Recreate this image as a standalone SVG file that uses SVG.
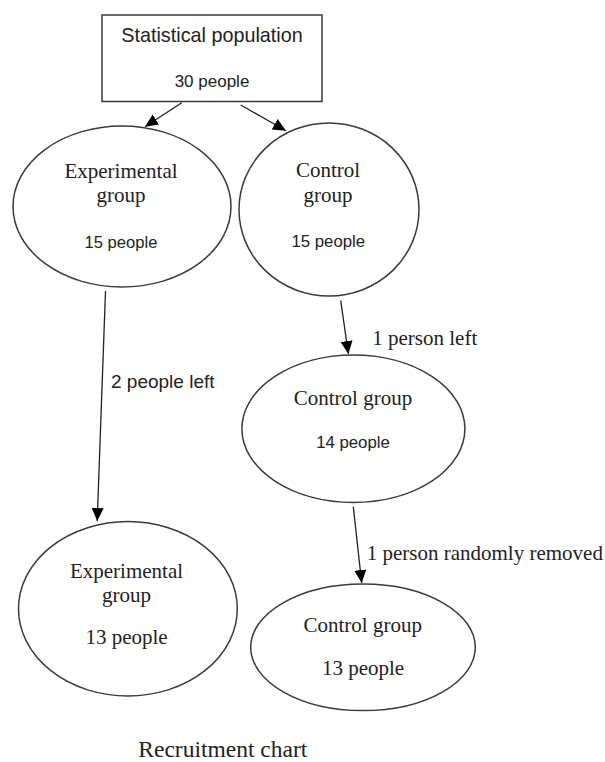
<svg xmlns="http://www.w3.org/2000/svg" width="605" height="762" viewBox="0 0 605 762">
<defs>
<style>
.node{fill:#fff;stroke:#3a3a3a;stroke-width:1.5}
.edge{stroke:#222;stroke-width:1.3;fill:none;marker-end:url(#ah)}
.sans{font-family:"Liberation Sans",Arial,sans-serif;fill:#222}
.serif{font-family:"Liberation Serif","Times New Roman",serif;fill:#222}
.c{text-anchor:middle}
</style>
<marker id="ah" markerUnits="userSpaceOnUse" markerWidth="14" markerHeight="14" viewBox="0 0 14 14" refX="13" refY="7" orient="auto">
<path d="M0,1 L13,7 L0,13 Z" fill="#000"/>
</marker>
</defs>
<rect width="605" height="762" fill="#fff"/>
<g id="connectors">
<line class="edge" x1="181.7" y1="102.7" x2="145" y2="126.7"/>
<line class="edge" x1="240.7" y1="105" x2="286" y2="130.7"/>
<line class="edge" x1="105.5" y1="291" x2="97.2" y2="521"/>
<line class="edge" x1="340.7" y1="300.7" x2="348.4" y2="354"/>
<line class="edge" x1="353.3" y1="506.7" x2="361.7" y2="583"/>
<text class="sans" x="111" y="388.3" font-size="19">2 people left</text>
<text class="serif" x="372.3" y="345" font-size="21">1 person left</text>
<text class="serif" x="366.7" y="560" font-size="21">1 person randomly removed</text>
</g>
<g id="population">
<rect class="node" x="102" y="15" width="220" height="86.5"/>
<text class="sans c" x="212" y="41.7" font-size="19.8">Statistical population</text>
<text class="sans c" x="212" y="87" font-size="17">30 people</text>
</g>
<g id="exp15">
<ellipse class="node" cx="122" cy="206.5" rx="109" ry="80.5"/>
<text class="serif c" x="121" y="178" font-size="21">Experimental</text>
<text class="serif c" x="121" y="201.5" font-size="21">group</text>
<text class="sans c" x="121" y="248" font-size="16.6">15 people</text>
</g>
<g id="ctrl15">
<ellipse class="node" cx="329" cy="209.5" rx="90" ry="86.5"/>
<text class="serif c" x="328" y="176.5" font-size="21">Control</text>
<text class="serif c" x="328" y="201.5" font-size="21">group</text>
<text class="sans c" x="328.3" y="246.7" font-size="16.8">15 people</text>
</g>
<g id="ctrl14">
<ellipse class="node" cx="353.4" cy="428.7" rx="111.5" ry="73.7"/>
<text class="serif c" x="353" y="405" font-size="21">Control group</text>
<text class="sans c" x="353" y="447.5" font-size="16.8">14 people</text>
</g>
<g id="exp13">
<ellipse class="node" cx="127.9" cy="608.8" rx="109.4" ry="87.2"/>
<text class="serif c" x="126.5" y="578" font-size="21">Experimental</text>
<text class="serif c" x="126.5" y="602" font-size="21">group</text>
<text class="serif c" x="126.5" y="644" font-size="21">13 people</text>
</g>
<g id="ctrl13">
<ellipse class="node" cx="363" cy="647.3" rx="112.3" ry="63.3"/>
<text class="serif c" x="362.7" y="631.7" font-size="21">Control group</text>
<text class="serif c" x="363" y="675" font-size="21">13 people</text>
</g>
<text class="serif c" x="222.8" y="757" font-size="23.5">Recruitment chart</text>
</svg>
